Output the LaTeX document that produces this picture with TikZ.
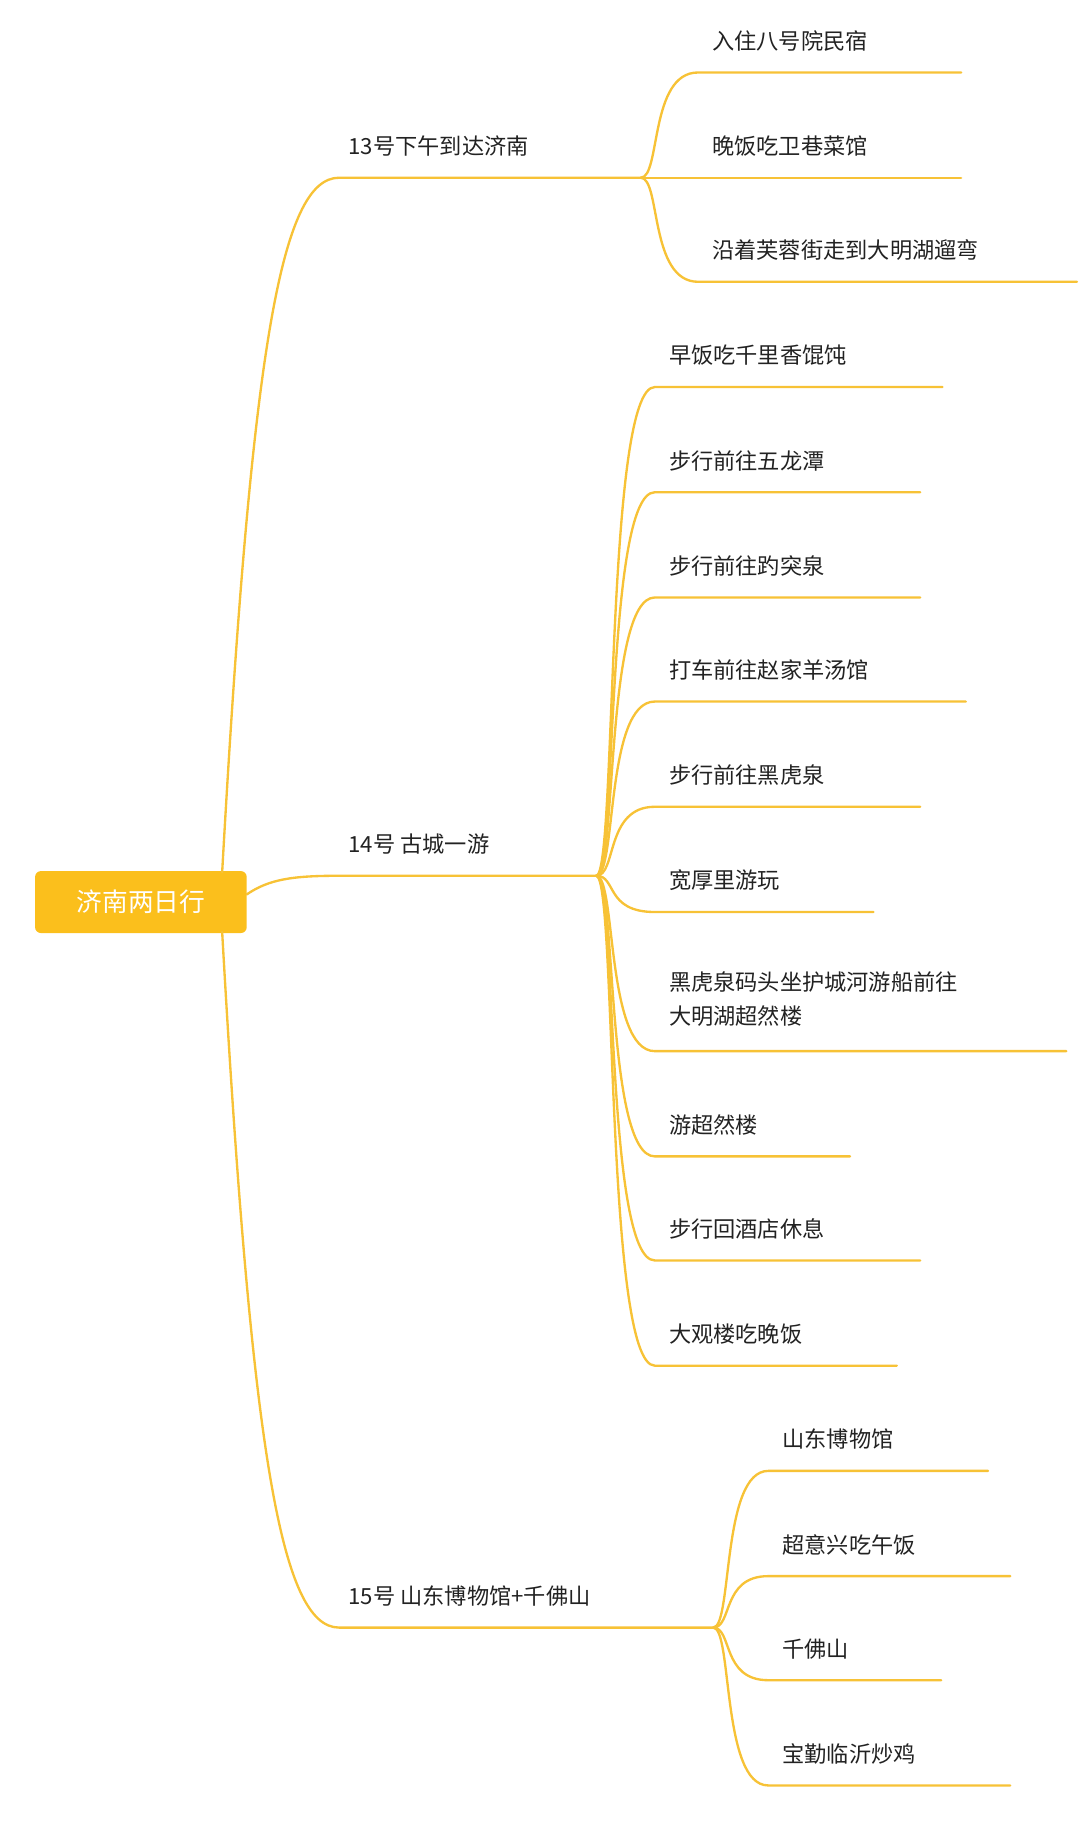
\documentclass[tikz,border=0pt]{standalone}
\usepackage{fontspec}
\setmainfont{Noto Sans CJK SC}
\definecolor{yl}{HTML}{FBBF1C}
\definecolor{ln}{HTML}{F7C236}
\definecolor{tx}{HTML}{222222}
\begin{document}
\begin{tikzpicture}[x=1pt,y=-1pt,
  lbl/.style={anchor=west,inner sep=0pt,text=tx,font=\fontsize{19}{29}\selectfont,align=left},
  con/.style={draw=ln,line width=2pt,line cap=round}]
\useasboundingbox (0,0) rectangle (924,1560);
\node[fill=yl,rounded corners=5pt,minimum width=181pt,minimum height=53pt,text=white,font=\fontsize{22}{26}\selectfont] (root) at (120.5,771.5) {济南两日行};
\coordinate (rt) at (190,746);
\coordinate (rb) at (190,797);
\coordinate (rr) at (211,765);
% branches
\coordinate (b1s) at (290,152); \coordinate (b1) at (548,152);
\coordinate (b2s) at (290,749); \coordinate (b2) at (510,749);
\coordinate (b3s) at (290,1392); \coordinate (b3) at (610,1392);
\draw[con] (rt) .. controls (215,300) and (240,152) .. (b1s) -- (b1);
\draw[con] (rr) .. controls (230,752) and (250,749) .. (b2s) -- (b2);
\draw[con] (rb) .. controls (215,1240) and (240,1392) .. (b3s) -- (b3);
\node[lbl] (l1) at (298,125) {13号下午到达济南};
\node[lbl] (l2) at (298,722) {14号\ 古城一游};
\node[lbl] (l3) at (298,1365) {15号\ 山东博物馆+千佛山};
% children
\newcommand\kid[7]{% name, junction, jx, startx, y, endx, text
  \coordinate (#1s) at (#4,#5); \coordinate (#1e) at (#6,#5);
  \draw[con] (#2) .. controls ({#3+(#4-#3)*0.35},{\jy}) and ({#3+(#4-#3)*0.15},#5) .. (#1s) -- (#1e);
  \node[lbl] (#1t) at ({#4+12},{#5-27}) {#7};}
\def\jy{152}
\kid{a1}{b1}{548}{597}{62}{822}{入住八号院民宿}
\kid{a2}{b1}{548}{597}{152}{822}{晚饭吃卫巷菜馆}
\kid{a3}{b1}{548}{597}{241}{921}{沿着芙蓉街走到大明湖遛弯}
\def\jy{749}
\kid{c1}{b2}{510}{560}{331}{806}{早饭吃千里香馄饨}
\kid{c2}{b2}{510}{560}{421}{787}{步行前往五龙潭}
\kid{c3}{b2}{510}{560}{511}{787}{步行前往趵突泉}
\kid{c4}{b2}{510}{560}{600}{826}{打车前往赵家羊汤馆}
\kid{c5}{b2}{510}{560}{690}{787}{步行前往黑虎泉}
\kid{c6}{b2}{510}{560}{780}{747}{宽厚里游玩}
\coordinate (c7s) at (560,899); \coordinate (c7e) at (912,899);
\draw[con] (b2) .. controls (527,749) and (518,899) .. (c7s) -- (c7e);
\node[lbl,anchor=north west] (c7t) at (572,831) {黑虎泉码头坐护城河游船前往\\大明湖超然楼};
\kid{c8}{b2}{510}{560}{989}{727}{游超然楼}
\kid{c9}{b2}{510}{560}{1078}{787}{步行回酒店休息}
\kid{c10}{b2}{510}{560}{1168}{767}{大观楼吃晚饭}
\def\jy{1392}
\kid{d1}{b3}{610}{657}{1258}{845}{山东博物馆}
\kid{d2}{b3}{610}{657}{1348}{864}{超意兴吃午饭}
\kid{d3}{b3}{610}{657}{1437}{805}{千佛山}
\kid{d4}{b3}{610}{657}{1527}{864}{宝勤临沂炒鸡}
\end{tikzpicture}
\end{document}
